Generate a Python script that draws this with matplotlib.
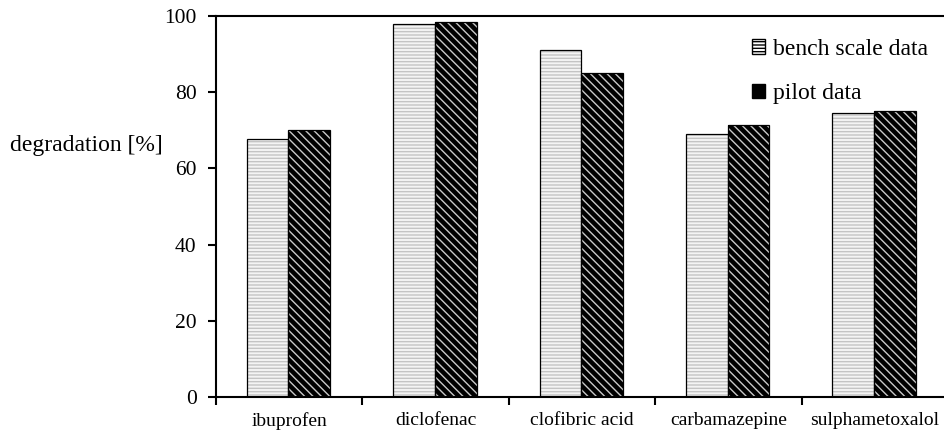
import numpy as np
import matplotlib
matplotlib.use("Agg")
import matplotlib.pyplot as plt
from matplotlib.patches import Patch

plt.rcParams['font.family'] = ['Liberation Serif', 'DejaVu Serif']
plt.rcParams['hatch.linewidth'] = 1.0

compounds = ['ibuprofen', 'diclofenac', 'clofibric acid', 'carbamazepine', 'sulphametoxalol']
bench = [67.7, 97.8, 91.1, 69.1, 74.6]
pilot = [70.1, 98.3, 85.1, 71.4, 75.1]

fig = plt.figure(figsize=(9.45, 4.38), dpi=100)
ax = fig.add_axes([216 / 945, 1 - 397 / 438, (948 - 216) / 945, (397 - 16) / 438])

x = np.arange(len(compounds))
w = 0.285
xb = x - w / 2 - 0.005
xp = x + w / 2 - 0.005

# hatch layers first, outlines on top
ax.bar(xb, bench, w, color='#f4f4f4', edgecolor='#c4c4c4', hatch='-----', lw=0, zorder=2)
ax.bar(xb, bench, w, fill=False, edgecolor='black', lw=0.9, zorder=3)
ax.bar(xp, pilot, w, color='black', edgecolor='#c8c8c8', hatch='\\\\\\\\', lw=0, zorder=2)
ax.bar(xp, pilot, w, fill=False, edgecolor='black', lw=0.9, zorder=3)

ax.set_xlim(-0.5, len(compounds) - 0.5)
ax.set_ylim(0, 100)
ax.set_yticks(range(0, 101, 20))
ax.tick_params(axis='y', labelsize=15.5, length=6, width=1.5, direction='out', pad=8)
ax.set_xticks(x - 0.5)
ax.set_xticklabels([])
ax.set_xticks(x, minor=True)
ax.set_xticklabels(compounds, minor=True, fontsize=14)
ax.tick_params(axis='x', which='major', length=6, width=1.5, direction='out')
ax.tick_params(axis='x', which='minor', length=0, pad=11)

for s in ['left', 'bottom', 'top']:
    ax.spines[s].set_linewidth(1.5)
ax.spines['right'].set_visible(False)

fig.text(10 / 945, 1 - 145 / 438, 'degradation [%]', fontsize=17, va='center', ha='left')

handles = [
    Patch(facecolor='white', edgecolor='#b8b8b8', hatch='-----', lw=0),
    Patch(facecolor='black', edgecolor='#c8c8c8', hatch='\\\\', lw=0),
]
leg = ax.legend(handles, ['bench scale data', 'pilot data'], loc='upper left',
                bbox_to_anchor=(740 / 945, 1 - 27 / 438), bbox_transform=fig.transFigure,
                frameon=False, fontsize=17, handlelength=0.55, handleheight=0.55,
                handletextpad=0.35, labelspacing=1.0, borderpad=0)
for p in leg.get_patches():
    p.set_edgecolor('black')
    p.set_linewidth(1.0)

fig.savefig('out.png', dpi=100)
